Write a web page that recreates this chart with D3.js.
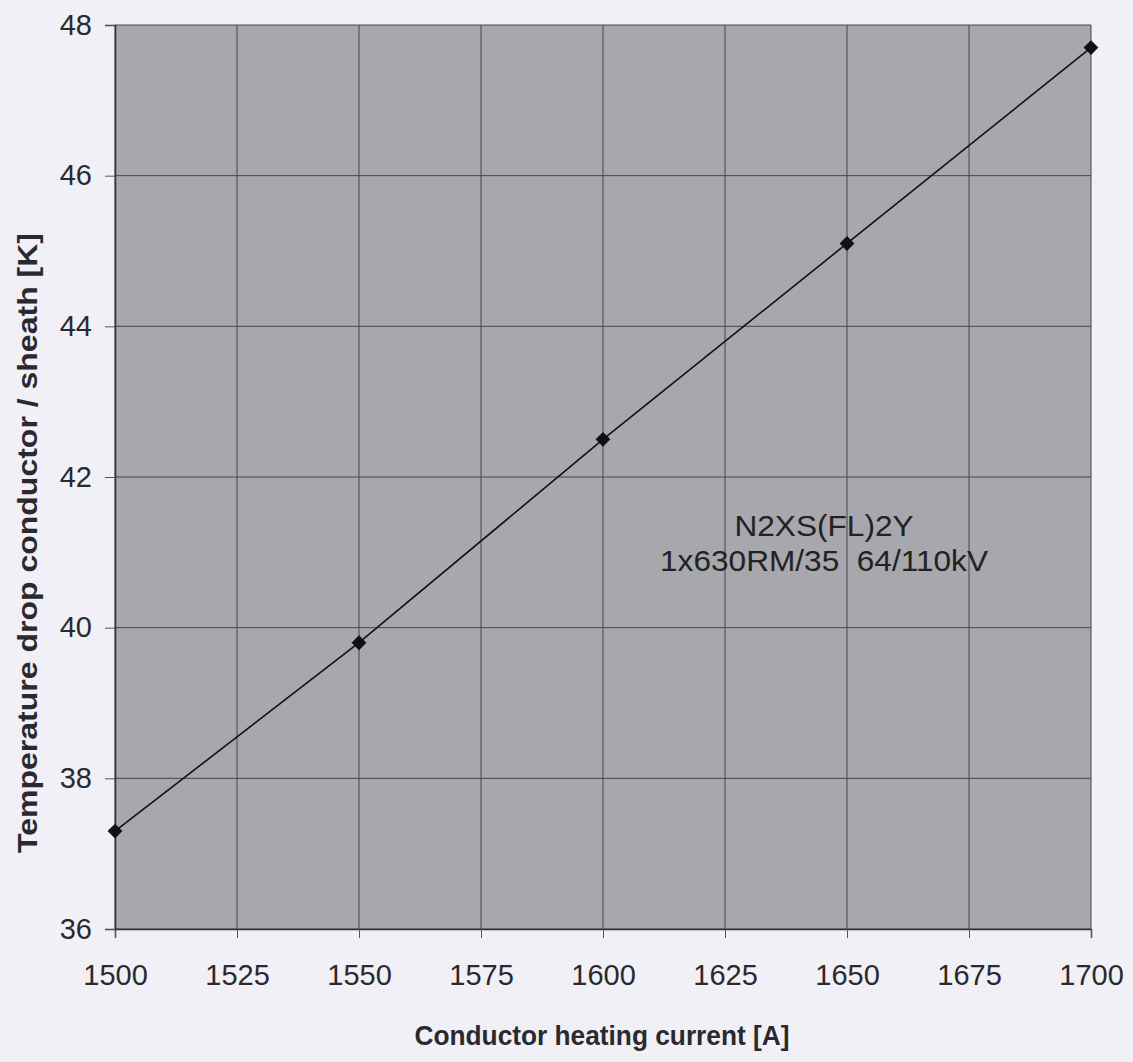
<!DOCTYPE html>
<html>
<head>
<meta charset="utf-8">
<script src="https://cdn.jsdelivr.net/npm/d3@7"></script>
<style>
  html, body { margin: 0; padding: 0; background: #f0f0f6; }
  svg { display: block; font-family: "Liberation Sans", Arial, sans-serif; }
</style>
</head>
<body>
<svg id="chart" width="1133" height="1062"></svg>
<script>
const current = [1500, 1550, 1600, 1650, 1700];
const tempDrop = [37.3, 39.8, 42.5, 45.1, 47.7];
const xTicks = [1500, 1525, 1550, 1575, 1600, 1625, 1650, 1675, 1700];
const yTicks = [36, 38, 40, 42, 44, 46, 48];
const noteLines = ['N2XS(FL)2Y', '1x630RM/35  64/110kV'];

const svg = d3.select('#chart');
const margin = { left: 115, right: 42, top: 25, bottom: 133 };
const W = +svg.attr('width'), H = +svg.attr('height');

const x = d3.scaleLinear().domain([1500, 1700]).range([margin.left, W - margin.right]);
const y = d3.scaleLinear().domain([36, 48]).range([H - margin.bottom, margin.top]);

// plot background
svg.append('rect')
  .attr('x', x(1500)).attr('y', y(48))
  .attr('width', x(1700) - x(1500)).attr('height', y(36) - y(48))
  .attr('fill', '#a7a7ad');

// grid
svg.append('g')
  .selectAll('line')
  .data(xTicks)
  .join('line')
  .attr('x1', d => x(d)).attr('x2', d => x(d))
  .attr('y1', y(48)).attr('y2', y(36))
  .attr('stroke', '#45454b').attr('stroke-width', 1);

svg.append('g')
  .selectAll('line')
  .data(yTicks)
  .join('line')
  .attr('x1', x(1500)).attr('x2', x(1700))
  .attr('y1', d => y(d)).attr('y2', d => y(d))
  .attr('stroke', '#45454b').attr('stroke-width', 1);

// axes
const xAxis = svg.append('g')
  .attr('transform', `translate(0,${y(36)})`)
  .call(d3.axisBottom(x).tickValues(xTicks).tickSize(9).tickPadding(26).tickFormat(d3.format('d')));
const yAxis = svg.append('g')
  .attr('transform', `translate(${x(1500)},0)`)
  .call(d3.axisLeft(y).tickValues(yTicks).tickSize(10).tickPadding(13));

[xAxis, yAxis].forEach(g => {
  g.select('.domain').attr('stroke', '#333').attr('stroke-width', 1.5);
  g.selectAll('.tick line').attr('stroke', '#555');
  g.selectAll('.tick text')
    .attr('fill', '#2a2a2e')
    .style('font-size', '29px')
    .style('font-family', '"Liberation Sans", Arial, sans-serif');
});

// axis titles
svg.append('text')
  .attr('x', 602)
  .attr('y', 1045)
  .attr('text-anchor', 'middle')
  .attr('font-size', 27).attr('font-weight', 'bold').attr('fill', '#2a2a2e')
  .attr('textLength', 375).attr('lengthAdjust', 'spacingAndGlyphs')
  .text('Conductor heating current [A]');

svg.append('text')
  .attr('transform', 'translate(37,543) rotate(-90)')
  .attr('text-anchor', 'middle')
  .attr('font-size', 28).attr('font-weight', 'bold').attr('fill', '#2a2a2e')
  .attr('textLength', 620).attr('lengthAdjust', 'spacingAndGlyphs')
  .text('Temperature drop conductor / sheath [K]');

// series
const pts = current.map((c, i) => [c, tempDrop[i]]);
svg.append('path')
  .datum(pts)
  .attr('fill', 'none').attr('stroke', '#111').attr('stroke-width', 1.6)
  .attr('d', d3.line().x(d => x(d[0])).y(d => y(d[1])));

svg.append('g')
  .selectAll('path')
  .data(pts)
  .join('path')
  .attr('transform', d => `translate(${x(d[0])},${y(d[1])})`)
  .attr('d', d3.symbol(d3.symbolDiamond2, 140)())
  .attr('fill', '#111');

// annotation (slightly wide lettering in the original)
svg.append('g')
  .attr('transform', 'translate(824,0) scale(1.09,1)')
  .selectAll('text')
  .data(noteLines)
  .join('text')
  .attr('x', 0)
  .attr('y', (d, i) => 536 + i * 35)
  .attr('text-anchor', 'middle')
  .attr('font-size', 29).attr('fill', '#222')
  .style('white-space', 'pre')
  .text(d => d);
</script>
</body>
</html>
